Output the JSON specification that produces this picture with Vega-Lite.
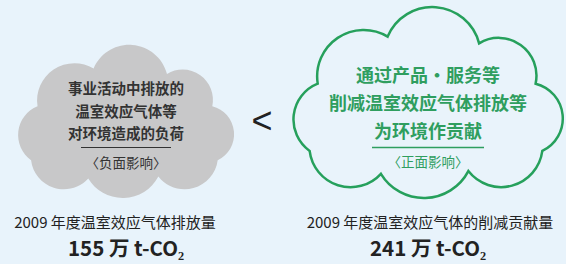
{
  "$schema": "https://vega.github.io/schema/vega-lite/v6.json",
  "width": 566,
  "height": 264,
  "padding": 0,
  "autosize": {"type": "fit", "contains": "padding"},
  "background": "#e8f3fb",
  "config": {"view": {"stroke": null}, "font": "Noto Sans CJK SC"},
  "data": {
    "values": [
      {"kind": "排放", "part": "cloud", "value": 155},
      {"kind": "削减", "part": "cloud", "value": 241},
      {"kind": "排放", "part": "body", "text": "事业活动中排放的\n温室效应气体等\n对环境造成的负荷"},
      {"kind": "削减", "part": "body", "text": "通过产品・服务等\n削减温室效应气体排放等\n为环境作贡献"},
      {"kind": "比较", "part": "body", "text": "<"},
      {"kind": "排放", "part": "rule"},
      {"kind": "削减", "part": "rule"},
      {"kind": "排放", "part": "sub", "text": "〈负面影响〉"},
      {"kind": "削减", "part": "sub", "text": "〈正面影响〉"},
      {"kind": "排放", "part": "label", "text": "2009 年度温室效应气体排放量"},
      {"kind": "削减", "part": "label", "text": "2009 年度温室效应气体的削减贡献量"},
      {"kind": "排放", "part": "amount", "value": 155, "text": "155 万 t-CO₂"},
      {"kind": "削减", "part": "amount", "value": 241, "text": "241 万 t-CO₂"}
    ]
  },
  "encoding": {
    "x": {"field": "kind", "type": "nominal", "axis": null,
      "scale": {"type": "point", "domain": ["排放", "比较", "削减"], "range": [126, 428], "padding": 0}},
    "y": {"field": "part", "type": "nominal", "axis": null,
      "scale": {"type": "point", "domain": ["body", "rule", "sub", "cloud", "label", "amount"], "range": [122.25, 248.5], "padding": 0}}
  },
  "layer": [
    {
      "transform": [{"filter": "datum.part == 'cloud' && datum.kind == '排放'"}],
      "mark": {"type": "point", "filled": true, "opacity": 1, "fill": "#c8c8c9", "strokeWidth": 0,
        "shape": "M-0.88 -0.35A0.287 0.287 0 0 1 -0.82 -0.85A0.346 0.346 0 0 1 -0.3 -1.2A0.36 0.36 0 0 1 0.38 -1.15A0.281 0.281 0 0 1 0.8 -0.85A0.267 0.267 0 0 1 0.85 -0.35A0.309 0.309 0 0 1 0.3 -0.2A0.373 0.373 0 0 1 -0.35 -0.18A0.306 0.306 0 0 1 -0.88 -0.35Z"},
      "encoding": {"size": {"field": "value", "type": "quantitative", "legend": null,
        "scale": {"type": "linear", "domain": [0, 241], "range": [0, 72361]}}}
    },
    {
      "transform": [{"filter": "datum.part == 'cloud' && datum.kind == '削减'"}],
      "mark": {"type": "point", "filled": false, "opacity": 1, "fill": "#e9f3fb", "fillOpacity": 1, "stroke": "#26a05c", "strokeWidth": 2.5,
        "shape": "M-0.88 -0.35A0.287 0.287 0 0 1 -0.82 -0.85A0.346 0.346 0 0 1 -0.3 -1.2A0.36 0.36 0 0 1 0.38 -1.15A0.281 0.281 0 0 1 0.8 -0.85A0.267 0.267 0 0 1 0.85 -0.35A0.309 0.309 0 0 1 0.3 -0.2A0.373 0.373 0 0 1 -0.35 -0.18A0.306 0.306 0 0 1 -0.88 -0.35Z"},
      "encoding": {"size": {"field": "value", "type": "quantitative", "legend": null,
        "scale": {"type": "linear", "domain": [0, 241], "range": [0, 72361]}}}
    },
    {
      "transform": [{"filter": "datum.part == 'body' && datum.kind == '排放'"}],
      "mark": {"type": "text", "align": "center", "baseline": "middle", "lineBreak": "\n", "lineHeight": 22.5,
        "fontSize": 14.5, "fontWeight": "bold", "color": "#333333", "dy": -32.25},
      "encoding": {"text": {"field": "text"}}
    },
    {
      "transform": [{"filter": "datum.part == 'body' && datum.kind == '削减'"}],
      "mark": {"type": "text", "align": "center", "baseline": "middle", "lineBreak": "\n", "lineHeight": 28,
        "fontSize": 18, "fontWeight": "bold", "color": "#2f9e5f", "dy": -45.25},
      "encoding": {"text": {"field": "text"}}
    },
    {
      "transform": [{"filter": "datum.kind == '比较'"}],
      "mark": {"type": "text", "align": "center", "baseline": "middle", "font": "Liberation Sans",
        "fontSize": 36, "fontWeight": 300, "color": "#222222", "dx": -15},
      "encoding": {"text": {"field": "text"}}
    },
    {
      "transform": [{"filter": "datum.part == 'rule' && datum.kind == '排放'"}],
      "mark": {"type": "tick", "orient": "horizontal", "size": 90, "thickness": 1.2, "color": "#333333", "opacity": 1}
    },
    {
      "transform": [{"filter": "datum.part == 'rule' && datum.kind == '削减'"}],
      "mark": {"type": "tick", "orient": "horizontal", "size": 112, "thickness": 1.5, "color": "#2f9e5f", "opacity": 1}
    },
    {
      "transform": [{"filter": "datum.part == 'sub' && datum.kind == '排放'"}],
      "mark": {"type": "text", "align": "center", "baseline": "middle", "fontSize": 13.5, "color": "#333333", "dy": -8.75},
      "encoding": {"text": {"field": "text"}}
    },
    {
      "transform": [{"filter": "datum.part == 'sub' && datum.kind == '削减'"}],
      "mark": {"type": "text", "align": "center", "baseline": "middle", "fontSize": 13.5, "color": "#2f9e5f", "dy": -9.75},
      "encoding": {"text": {"field": "text"}}
    },
    {
      "transform": [{"filter": "datum.part == 'label' && datum.kind == '排放'"}],
      "mark": {"type": "text", "align": "center", "baseline": "middle", "fontSize": 15, "color": "#222222", "dx": -11},
      "encoding": {"text": {"field": "text"}}
    },
    {
      "transform": [{"filter": "datum.part == 'label' && datum.kind == '削减'"}],
      "mark": {"type": "text", "align": "center", "baseline": "middle", "fontSize": 15, "color": "#222222", "dx": 2},
      "encoding": {"text": {"field": "text"}}
    },
    {
      "transform": [{"filter": "datum.part == 'amount'"}],
      "mark": {"type": "text", "align": "center", "baseline": "middle", "fontSize": 20.5, "fontWeight": "bold", "color": "#222222", "dy": 1.5},
      "encoding": {"text": {"field": "text"}}
    }
  ]
}
